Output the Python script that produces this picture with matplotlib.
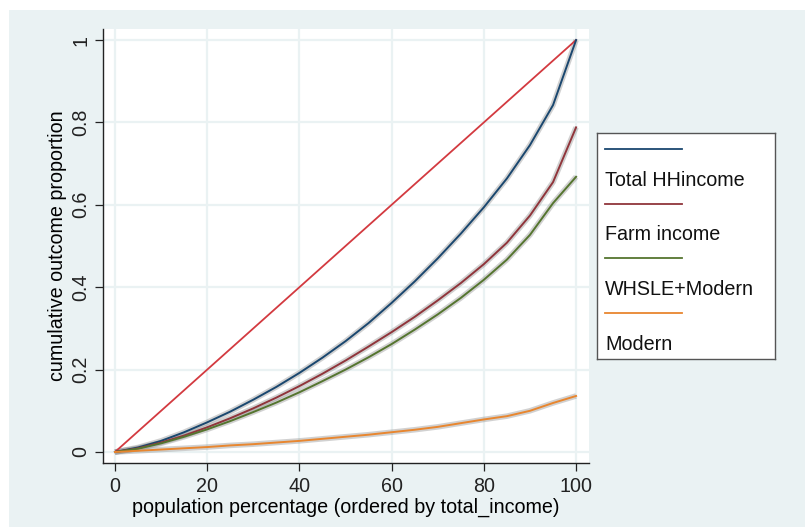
import matplotlib
matplotlib.use("Agg")
import matplotlib.pyplot as plt
from matplotlib.lines import Line2D
from matplotlib.patches import Rectangle

plt.rcParams["font.family"] = ["Liberation Sans", "DejaVu Sans"]

# population percentage (ordered by total_income)
pop_pct = [0, 5, 10, 15, 20, 25, 30, 35, 40, 45, 50,
           55, 60, 65, 70, 75, 80, 85, 90, 95, 100]

total_hh = [0, 0.011, 0.027, 0.048, 0.072, 0.098, 0.127, 0.158, 0.192, 0.229, 0.269,
            0.313, 0.362, 0.414, 0.470, 0.530, 0.594, 0.664, 0.745, 0.842, 1.0]
farm = [0, 0.009, 0.023, 0.040, 0.060, 0.082, 0.106, 0.132, 0.160, 0.190, 0.222,
        0.256, 0.291, 0.328, 0.368, 0.410, 0.456, 0.508, 0.574, 0.655, 0.788]
whsle_modern = [0, 0.008, 0.021, 0.037, 0.055, 0.075, 0.097, 0.120, 0.145, 0.172, 0.200,
                0.230, 0.262, 0.297, 0.334, 0.374, 0.418, 0.467, 0.527, 0.604, 0.668]
modern = [0, 0.003, 0.006, 0.009, 0.012, 0.016, 0.019, 0.023, 0.027, 0.032, 0.037,
          0.042, 0.048, 0.054, 0.061, 0.070, 0.079, 0.087, 0.100, 0.119, 0.136]

equality_x = [0, 100]
equality_y = [0, 1]

series = [total_hh, farm, whsle_modern, modern]
labels = ["Total HHincome", "Farm income", "WHSLE+Modern", "Modern"]
colors = ["#1A476F", "#90353B", "#55752F", "#E8862F"]

x_ticks = [0, 20, 40, 60, 80, 100]
y_ticks = [0, 0.2, 0.4, 0.6, 0.8, 1.0]
y_tick_labels = ["0", "0.2", "0.4", "0.6", "0.8", "1"]

BG = "#EAF2F3"
W, H = 805, 527
FS = 14.2

fig = plt.figure(figsize=(W / 100, H / 100), dpi=100)
fig.patch.set_facecolor("white")
fig.patches.append(Rectangle((9 / W, 0), 1 - 9 / W, 1 - 10 / H,
                             transform=fig.transFigure, facecolor=BG,
                             edgecolor="none", zorder=-10))

ax = fig.add_axes([103 / W, 1 - 463 / H, (589 - 103) / W, (463 - 29) / H])
ax.set_facecolor("white")
ax.set_xlim(-2.6, 102.8)
ax.set_ylim(-0.0267, 1.0267)

for xt in x_ticks:
    ax.axvline(xt, color=BG, lw=1.6, zorder=0)
for yt in y_ticks:
    ax.axhline(yt, color=BG, lw=1.6, zorder=0)

ax.plot(equality_x, equality_y, color="#D33A40", lw=1.3, zorder=3)
for vals, col in zip(series, colors):
    ax.plot(pop_pct, vals, color="#9a9a9a", lw=4.0, alpha=0.45,
            solid_capstyle="butt", zorder=2)
    ax.plot(pop_pct, vals, color=col, lw=1.4, zorder=4)

ax.set_xticks(x_ticks)
ax.set_yticks(y_ticks)
ax.set_yticklabels(y_tick_labels, rotation=90, va="center")
ax.tick_params(direction="out", length=6, width=0.9, colors="#222222",
               labelsize=FS, pad=4)
ax.tick_params(axis="y", pad=3)
for side in ("top", "right"):
    ax.spines[side].set_visible(False)
for side in ("left", "bottom"):
    ax.spines[side].set_color("#222222")
    ax.spines[side].set_linewidth(1.0)

ax.set_xlabel("population percentage (ordered by total_income)", fontsize=FS,
              labelpad=1)
ax.set_ylabel("cumulative outcome proportion", fontsize=FS, labelpad=3)

# stacked legend (key above label)
lg = fig.add_axes([597 / W, 1 - 359 / H, (775 - 597) / W, (359 - 133) / H])
lg.set_facecolor("white")
lg.set_xlim(597, 775)
lg.set_ylim(359, 133)
lg.set_xticks([])
lg.set_yticks([])
for sp in lg.spines.values():
    sp.set_color("#555555")
    sp.set_linewidth(1.0)
for i, (lab, col) in enumerate(zip(labels, colors)):
    y0 = 149 + i * 54.7
    lg.add_line(Line2D([605, 682], [y0, y0], color=col, lw=1.3))
    lg.text(605, y0 + 31, lab, fontsize=FS, va="center", ha="left", color="#111111")

fig.savefig("out.png", dpi=100, facecolor=fig.get_facecolor())
